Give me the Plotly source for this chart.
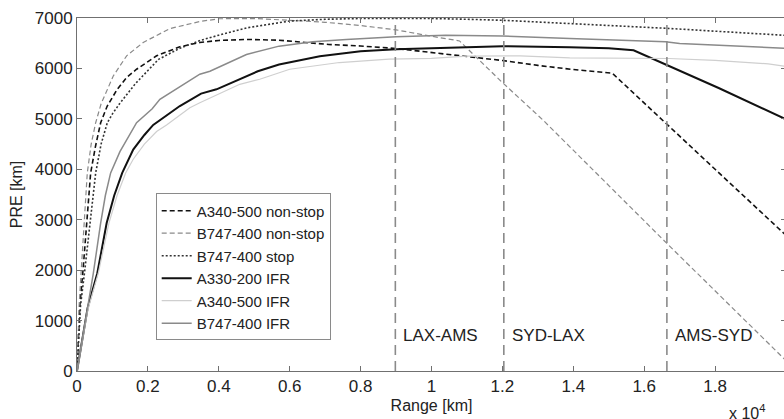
import plotly.graph_objects as go

# ---- data (km) ----
a340_ns_x = [0, 80, 170, 273, 385, 520, 667, 850, 1135, 1400, 1681, 2245, 2902, 3465, 4000, 4800, 5700, 7100, 8000, 9000, 10000, 11000, 12000, 13000, 14000, 15100, 16600, 18000, 20000]
a340_ns_y = [0, 1300, 2000, 2933, 3928, 4450, 4923, 5250, 5586, 5820, 5984, 6250, 6430, 6515, 6555, 6575, 6560, 6475, 6445, 6395, 6315, 6250, 6157, 6060, 5978, 5905, 4930, 4000, 2690]

b747_ns_x = [0, 60, 120, 197, 290, 400, 527, 680, 855, 1023, 1400, 1868, 2620, 3465, 4000, 5000, 6000, 7000, 8000, 8536, 9000, 9944, 10790, 12000, 13135, 16640, 20000]
b747_ns_y = [0, 1300, 2000, 2933, 3928, 4500, 4923, 5300, 5586, 5850, 6250, 6515, 6790, 6930, 6985, 6990, 6955, 6915, 6850, 6806, 6765, 6645, 6545, 5720, 4983, 2530, 205]

b747_stop_x = [0, 100, 220, 366, 527, 680, 855, 1000, 1200, 1650, 2300, 2900, 3500, 4000, 4800, 6000, 7000, 8000, 10000, 11000, 12000, 14000, 16700, 20000]
b747_stop_y = [0, 1300, 2000, 2933, 3928, 4500, 4923, 5100, 5300, 5700, 6180, 6400, 6560, 6660, 6806, 6940, 6975, 6990, 6990, 6975, 6955, 6886, 6793, 6655]

a330_ifr_x = [0, 150, 300, 572, 837, 1050, 1276, 1586, 1900, 2150, 2400, 2900, 3500, 3935, 5100, 5700, 6850, 8000, 9000, 10000, 11000, 12000, 13900, 15000, 15700, 16700, 18100, 20000]
a330_ifr_y = [0, 600, 1250, 1938, 2933, 3480, 3928, 4392, 4680, 4880, 5000, 5254, 5500, 5586, 5944, 6077, 6243, 6340, 6380, 6400, 6430, 6440, 6420, 6400, 6360, 6044, 5612, 4990]

a340_ifr_x = [0, 150, 300, 600, 901, 1130, 1372, 1586, 1900, 2245, 2527, 3183, 3465, 4592, 5155, 6000, 7400, 8800, 10000, 11000, 12500, 13900, 16700, 18000, 19500, 20000]
a340_ifr_y = [0, 600, 1200, 1938, 2933, 3480, 3928, 4200, 4500, 4750, 4880, 5222, 5321, 5685, 5785, 5984, 6117, 6183, 6200, 6243, 6250, 6210, 6197, 6160, 6090, 6040]

b747_ifr_x = [0, 150, 300, 460, 667, 800, 949, 1211, 1681, 2122, 2338, 3465, 3750, 4780, 5700, 6650, 7600, 9000, 10400, 12000, 13900, 15950, 16600, 17000, 20000]
b747_ifr_y = [0, 650, 1300, 1938, 2933, 3480, 3928, 4350, 4923, 5200, 5387, 5885, 5944, 6277, 6442, 6528, 6575, 6628, 6660, 6641, 6595, 6555, 6530, 6495, 6400]

route_names = ["LAX-AMS", "SYD-LAX", "AMS-SYD"]
route_km = [8980, 12040, 16640]

x_tickvals = [0, 2000, 4000, 6000, 8000, 10000, 12000, 14000, 16000, 18000, 20000]
x_ticktext = ["0", "0.2", "0.4", "0.6", "0.8", "1", "1.2", "1.4", "1.6", "1.8", "2"]
y_tickvals = [0, 1000, 2000, 3000, 4000, 5000, 6000, 7000]

FONT = "Liberation Sans, Arial, sans-serif"
TXT = "#222222"

series = [
    ("A340-500 non-stop", a340_ns_x, a340_ns_y, dict(color="#111111", width=1.6, dash="5px,3px")),
    ("B747-400 non-stop", b747_ns_x, b747_ns_y, dict(color="#8a8a8a", width=1.2, dash="5px,3px")),
    ("B747-400 stop", b747_stop_x, b747_stop_y, dict(color="#333333", width=1.6, dash="2px,2px")),
    ("A330-200 IFR", a330_ifr_x, a330_ifr_y, dict(color="#111111", width=2)),
    ("A340-500 IFR", a340_ifr_x, a340_ifr_y, dict(color="#cfcfcf", width=1.2)),
    ("B747-400 IFR", b747_ifr_x, b747_ifr_y, dict(color="#8a8a8a", width=1.5)),
]

fig = go.Figure()
for name, xs, ys, ln in series:
    fig.add_trace(go.Scatter(x=xs, y=ys, mode="lines", name=name, line=ln))

for name, xv in zip(route_names, route_km):
    fig.add_shape(type="line", xref="x", yref="y", x0=xv, x1=xv, y0=0, y1=7000,
                  line=dict(color="#8a8a8a", width=1.6, dash="10px,6px"))
    fig.add_annotation(x=xv, y=700, xref="x", yref="y", text=name, showarrow=False,
                       xanchor="left", yanchor="middle", xshift=6,
                       font=dict(family=FONT, size=17, color=TXT))

axis_common = dict(showline=True, linecolor="#707070", linewidth=1, mirror="ticks",
                   ticks="inside", ticklen=5, tickcolor="#707070", showgrid=False,
                   zeroline=False, automargin=False,
                   tickfont=dict(family=FONT, size=17, color=TXT))

fig.update_xaxes(range=[0, 20000], tickvals=x_tickvals, ticktext=x_ticktext,
                 title=dict(text="Range [km]", font=dict(family=FONT, size=16, color=TXT), standoff=4),
                 **axis_common)
fig.update_yaxes(range=[0, 7000], tickvals=y_tickvals,
                 title=dict(text="PRE [km]", font=dict(family=FONT, size=16, color=TXT), standoff=8),
                 **axis_common)

fig.add_annotation(x=0.917, y=-0.116, xref="paper", yref="paper", text="x 10<sup>4</sup>",
                   showarrow=False, xanchor="left", yanchor="middle",
                   font=dict(family=FONT, size=16, color=TXT))

# plot area sits at x 77-786, y 18-371 on the page (right edge runs just past the window, as in the reference)
fig.update_layout(
    width=786, height=419,
    margin=dict(l=77, r=0, t=18, b=48),
    plot_bgcolor="white", paper_bgcolor="white",
    font=dict(family=FONT, size=16, color=TXT),
    legend=dict(x=0.111, y=0.503, xanchor="left", yanchor="top",
                bgcolor="white", bordercolor="#8a8a8a", borderwidth=1,
                font=dict(family=FONT, size=15, color=TXT),
                itemwidth=30, tracegroupgap=0),
    showlegend=True,
)

fig.write_html(
    "out.html",
    config={"displayModeBar": False},
    post_script="document.body.style.margin='0';document.body.style.overflow='hidden';"
                "document.documentElement.style.overflow='hidden';",
)
